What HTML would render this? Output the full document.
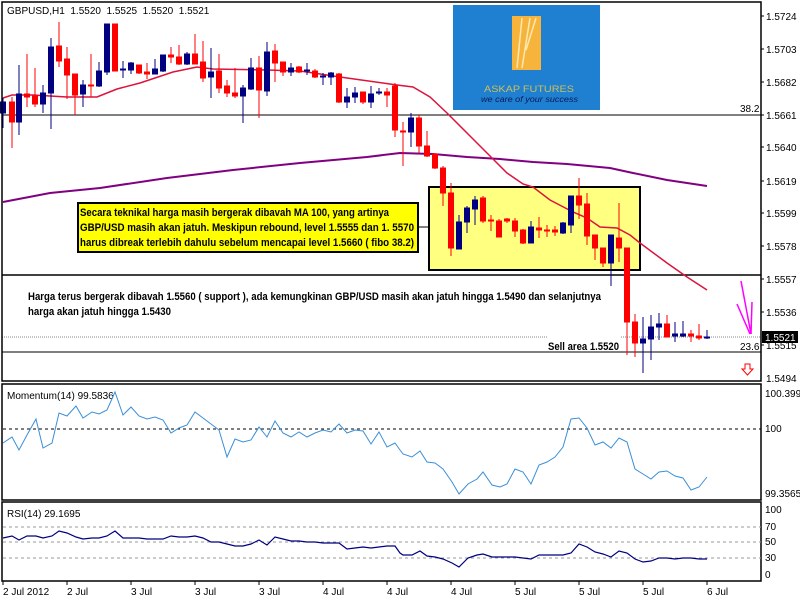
<!DOCTYPE html>
<html><head><meta charset="utf-8"><style>
html,body{margin:0;padding:0;background:#fff;width:800px;height:600px;overflow:hidden}
svg{display:block}
text{font-family:"Liberation Sans",sans-serif}
.ax{font-size:10px;fill:#000}
.nb{font-size:11px;font-weight:bold;fill:#000}
</style></head><body>
<svg width="800" height="600" viewBox="0 0 800 600" xmlns="http://www.w3.org/2000/svg">
<rect width="800" height="600" fill="#fff"/>
<!-- logo -->
<rect x="453" y="5" width="147" height="105" fill="#1f7fd1"/>
<rect x="512" y="16" width="29" height="54" fill="#f6b43c"/>
<path d="M517 68 L522 18 M522 68 L530 18 M526 50 L536 18" stroke="#fde9b0" stroke-width="1.5" fill="none"/>
<text x="484" y="92" font-size="9.5" fill="#c9c05a" textLength="90" lengthAdjust="spacingAndGlyphs">ASKAP FUTURES</text>
<text x="481" y="102" font-size="8" font-style="italic" fill="#0a1a5a" textLength="97" lengthAdjust="spacingAndGlyphs">we care of your success</text>

<!-- yellow box 2 behind candles -->
<rect x="429" y="187" width="211" height="83" fill="#ffff80" stroke="#000" stroke-width="2"/>
<line x1="418" y1="227" x2="429" y2="227" stroke="#000" stroke-width="1"/>

<!-- horizontal lines -->
<line x1="2" y1="115" x2="761" y2="115" stroke="#000" stroke-width="1"/>
<line x1="2" y1="275" x2="761" y2="275" stroke="#000" stroke-width="1.5"/>
<line x1="2" y1="352" x2="761" y2="352" stroke="#000" stroke-width="1"/>
<line x1="2" y1="337" x2="547" y2="337" stroke="#888" stroke-width="1" stroke-dasharray="1,1"/>
<line x1="621" y1="337" x2="761" y2="337" stroke="#888" stroke-width="1" stroke-dasharray="1,1"/>

<!-- MA lines -->
<polyline fill="none" stroke="#800080" stroke-width="2" points="3,202 50,193 100,188 167,178 233,170 300,163 367,157 400,153 433,154 467,157 500,159 533,162 567,164 610,168 633,173 667,180 707,186"/>
<polyline fill="none" stroke="#dc143c" stroke-width="1.5" points="3,98 12,95 33,95 67,97 97,97 117,89 140,83 173,72 197,67 213,69 267,70 300,71 347,78 397,85 413,87 430,97 447,113 467,133 487,153 507,173 523,184 533,187 550,200 573,212 587,218 600,227 617,228 630,235 640,243 667,263 687,277 707,290"/>

<!-- red candles -->
<g fill="#ff0000" stroke="#ff0000" stroke-width="1">
<line x1="12" y1="97" x2="12" y2="148"/><rect x="9.5" y="102" width="5" height="20"/>
<line x1="27" y1="54" x2="27" y2="107"/><rect x="24.5" y="94" width="5" height="3"/>
<line x1="35" y1="68" x2="35" y2="107"/><rect x="32.5" y="96" width="5" height="8"/>
<line x1="59" y1="22" x2="59" y2="67"/><rect x="56.5" y="46" width="5" height="15"/>
<line x1="67" y1="47" x2="67" y2="99"/><rect x="64.5" y="59" width="5" height="16"/>
<line x1="75" y1="74" x2="75" y2="115"/><rect x="72.5" y="74" width="5" height="21"/>
<line x1="91" y1="54" x2="91" y2="97"/><rect x="88.5" y="85" width="5" height="1"/>
<line x1="115" y1="24" x2="115" y2="71"/><rect x="112.5" y="24" width="5" height="47"/>
<line x1="139" y1="65" x2="139" y2="74"/><rect x="136.5" y="65" width="5" height="8"/>
<line x1="147" y1="63" x2="147" y2="79"/><rect x="144.5" y="72" width="5" height="2"/>
<line x1="171" y1="47" x2="171" y2="63"/><rect x="168.5" y="55" width="5" height="2"/>
<line x1="179" y1="45" x2="179" y2="65"/><rect x="176.5" y="57" width="5" height="7"/>
<line x1="195" y1="34" x2="195" y2="64"/><rect x="192.5" y="54" width="5" height="10"/>
<line x1="203" y1="41" x2="203" y2="82"/><rect x="200.5" y="62" width="5" height="16"/>
<line x1="219" y1="54" x2="219" y2="93"/><rect x="216.5" y="71" width="5" height="17"/>
<line x1="227" y1="80" x2="227" y2="97"/><rect x="224.5" y="86" width="5" height="7"/>
<line x1="235" y1="68" x2="235" y2="98"/><rect x="232.5" y="93" width="5" height="3"/>
<line x1="259" y1="56" x2="259" y2="118"/><rect x="256.5" y="68" width="5" height="22"/>
<line x1="275" y1="44" x2="275" y2="82"/><rect x="272.5" y="51" width="5" height="12"/>
<line x1="283" y1="62" x2="283" y2="76"/><rect x="280.5" y="62" width="5" height="10"/>
<line x1="299" y1="66" x2="299" y2="73"/><rect x="296.5" y="67" width="5" height="5"/>
<line x1="315" y1="69" x2="315" y2="78"/><rect x="312.5" y="71" width="5" height="6"/>
<line x1="339" y1="73" x2="339" y2="103"/><rect x="336.5" y="74" width="5" height="28"/>
<line x1="363" y1="92" x2="363" y2="104"/><rect x="360.5" y="92" width="5" height="10"/>
<line x1="387" y1="88" x2="387" y2="107"/><rect x="384.5" y="92" width="5" height="3"/>
<line x1="395" y1="83" x2="395" y2="137"/><rect x="392.5" y="86" width="5" height="44"/>
<line x1="403" y1="122" x2="403" y2="166"/><rect x="400.5" y="131" width="5" height="1"/>
<line x1="419" y1="115" x2="419" y2="153"/><rect x="416.5" y="118" width="5" height="28"/>
<line x1="427" y1="131" x2="427" y2="157"/><rect x="424.5" y="146" width="5" height="10"/>
<line x1="435" y1="154" x2="435" y2="169"/><rect x="432.5" y="154" width="5" height="14"/>
<line x1="443" y1="166" x2="443" y2="206"/><rect x="440.5" y="168" width="5" height="25"/>
<line x1="451" y1="183" x2="451" y2="256"/><rect x="448.5" y="193" width="5" height="55"/>
<line x1="483" y1="196" x2="483" y2="223"/><rect x="480.5" y="198" width="5" height="23"/>
<line x1="491" y1="215" x2="491" y2="231"/><rect x="488.5" y="220" width="5" height="1"/>
<line x1="499" y1="219" x2="499" y2="237"/><rect x="496.5" y="221" width="5" height="16"/>
<line x1="507" y1="218" x2="507" y2="223"/><rect x="504.5" y="219" width="5" height="2"/>
<line x1="515" y1="218" x2="515" y2="237"/><rect x="512.5" y="221" width="5" height="10"/>
<line x1="523" y1="229" x2="523" y2="244"/><rect x="520.5" y="230" width="5" height="13"/>
<line x1="539" y1="217" x2="539" y2="238"/><rect x="536.5" y="228" width="5" height="2"/>
<line x1="547" y1="225" x2="547" y2="237"/><rect x="544.5" y="230" width="5" height="1"/>
<line x1="555" y1="226" x2="555" y2="236"/><rect x="552.5" y="230" width="5" height="2"/>
<line x1="579" y1="178" x2="579" y2="219"/><rect x="576.5" y="196" width="5" height="9"/>
<line x1="587" y1="193" x2="587" y2="245"/><rect x="584.5" y="204" width="5" height="32"/>
<line x1="595" y1="235" x2="595" y2="260"/><rect x="592.5" y="235" width="5" height="13"/>
<line x1="603" y1="248" x2="603" y2="267"/><rect x="600.5" y="248" width="5" height="15"/>
<line x1="619" y1="203" x2="619" y2="262"/><rect x="616.5" y="238" width="5" height="10"/>
<line x1="627" y1="248" x2="627" y2="355"/><rect x="624.5" y="248" width="5" height="74"/>
<line x1="635" y1="314" x2="635" y2="357"/><rect x="632.5" y="322" width="5" height="21"/>
<line x1="667" y1="315" x2="667" y2="337"/><rect x="664.5" y="324" width="5" height="13"/>
<line x1="691" y1="330" x2="691" y2="342"/><rect x="688.5" y="334" width="5" height="2"/>
<line x1="699" y1="324" x2="699" y2="340"/><rect x="696.5" y="336" width="5" height="2"/>
</g>
<!-- blue candles -->
<g fill="#000080" stroke="#000080" stroke-width="1">
<line x1="3" y1="98" x2="3" y2="128"/><rect x="0.5" y="102" width="5" height="11"/>
<line x1="19" y1="65" x2="19" y2="135"/><rect x="16.5" y="94" width="5" height="28"/>
<line x1="43" y1="85" x2="43" y2="113"/><rect x="40.5" y="93" width="5" height="11"/>
<line x1="51" y1="38" x2="51" y2="129"/><rect x="48.5" y="47" width="5" height="46"/>
<line x1="83" y1="80" x2="83" y2="107"/><rect x="80.5" y="85" width="5" height="9"/>
<line x1="99" y1="62" x2="99" y2="87"/><rect x="96.5" y="71" width="5" height="15"/>
<line x1="107" y1="24" x2="107" y2="75"/><rect x="104.5" y="24" width="5" height="48"/>
<line x1="123" y1="61" x2="123" y2="78"/><rect x="120.5" y="69" width="5" height="1"/>
<line x1="131" y1="62" x2="131" y2="74"/><rect x="128.5" y="63" width="5" height="7"/>
<line x1="155" y1="59" x2="155" y2="74"/><rect x="152.5" y="69" width="5" height="5"/>
<line x1="163" y1="55" x2="163" y2="72"/><rect x="160.5" y="55" width="5" height="16"/>
<line x1="187" y1="52" x2="187" y2="65"/><rect x="184.5" y="54" width="5" height="10"/>
<line x1="211" y1="48" x2="211" y2="98"/><rect x="208.5" y="72" width="5" height="5"/>
<line x1="243" y1="85" x2="243" y2="123"/><rect x="240.5" y="88" width="5" height="8"/>
<line x1="251" y1="58" x2="251" y2="90"/><rect x="248.5" y="68" width="5" height="21"/>
<line x1="267" y1="42" x2="267" y2="96"/><rect x="264.5" y="52" width="5" height="39"/>
<line x1="291" y1="63" x2="291" y2="76"/><rect x="288.5" y="68" width="5" height="4"/>
<line x1="307" y1="63" x2="307" y2="75"/><rect x="304.5" y="70" width="5" height="1"/>
<line x1="323" y1="73" x2="323" y2="85"/><rect x="320.5" y="76" width="5" height="1"/>
<line x1="331" y1="72" x2="331" y2="85"/><rect x="328.5" y="73" width="5" height="4"/>
<line x1="347" y1="88" x2="347" y2="108"/><rect x="344.5" y="97" width="5" height="5"/>
<line x1="355" y1="87" x2="355" y2="103"/><rect x="352.5" y="93" width="5" height="4"/>
<line x1="371" y1="86" x2="371" y2="108"/><rect x="368.5" y="94" width="5" height="8"/>
<line x1="379" y1="88" x2="379" y2="95"/><rect x="376.5" y="92" width="5" height="1"/>
<line x1="411" y1="113" x2="411" y2="147"/><rect x="408.5" y="118" width="5" height="14"/>
<line x1="459" y1="215" x2="459" y2="249"/><rect x="456.5" y="222" width="5" height="27"/>
<line x1="467" y1="206" x2="467" y2="233"/><rect x="464.5" y="208" width="5" height="14"/>
<line x1="475" y1="196" x2="475" y2="225"/><rect x="472.5" y="200" width="5" height="9"/>
<line x1="531" y1="221" x2="531" y2="243"/><rect x="528.5" y="227" width="5" height="16"/>
<line x1="563" y1="222" x2="563" y2="234"/><rect x="560.5" y="223" width="5" height="10"/>
<line x1="571" y1="196" x2="571" y2="233"/><rect x="568.5" y="196" width="5" height="29"/>
<line x1="611" y1="235" x2="611" y2="286"/><rect x="608.5" y="235" width="5" height="28"/>
<line x1="643" y1="317" x2="643" y2="373"/><rect x="640.5" y="339" width="5" height="4"/>
<line x1="651" y1="315" x2="651" y2="360"/><rect x="648.5" y="327" width="5" height="12"/>
<line x1="659" y1="313" x2="659" y2="340"/><rect x="656.5" y="324" width="5" height="3"/>
<line x1="675" y1="322" x2="675" y2="342"/><rect x="672.5" y="334" width="5" height="2"/>
<line x1="683" y1="321" x2="683" y2="337"/><rect x="680.5" y="334" width="5" height="2"/>
<line x1="707" y1="330" x2="707" y2="339"/><rect x="704.5" y="337" width="5" height="1"/>
</g>

<!-- yellow box 1 -->
<rect x="78" y="203" width="340" height="49" fill="#ffff00" stroke="#000" stroke-width="2"/>
<text class="nb" x="80" y="216" textLength="309" lengthAdjust="spacingAndGlyphs">Secara teknikal harga masih bergerak dibavah MA 100, yang artinya</text>
<text class="nb" x="80" y="231" textLength="334" lengthAdjust="spacingAndGlyphs">GBP/USD masih akan jatuh. Meskipun rebound, level 1.5555 dan 1. 5570</text>
<text class="nb" x="80" y="246" textLength="334" lengthAdjust="spacingAndGlyphs">harus dibreak terlebih dahulu sebelum mencapai level 1.5660 ( fibo 38.2)</text>

<text class="nb" x="28" y="300" textLength="573" lengthAdjust="spacingAndGlyphs">Harga terus bergerak dibavah 1.5560 ( support ), ada kemungkinan GBP/USD masih akan jatuh hingga 1.5490 dan selanjutnya</text>
<text class="nb" x="28" y="315" textLength="143" lengthAdjust="spacingAndGlyphs">harga akan jatuh hingga 1.5430</text>
<text class="nb" x="548" y="350" textLength="71" lengthAdjust="spacingAndGlyphs">Sell area 1.5520</text>
<text class="ax" x="740" y="112">38.2</text>
<text class="ax" x="740" y="350">23.6</text>

<!-- magenta arrows -->
<g stroke="#ff00ff" stroke-width="1.5" fill="none">
<line x1="741" y1="281" x2="751" y2="334"/>
<line x1="737" y1="304" x2="750" y2="334"/>
<line x1="752" y1="302" x2="751" y2="334"/>
</g>
<path d="M745 364 h5 v5 h3 l-5.5 6 l-5.5 -6 h3 z" fill="none" stroke="#ff0000" stroke-width="1"/>

<!-- title -->
<text class="ax" x="7" y="14">GBPUSD,H1&#160;&#160;1.5520&#160;&#160;1.5525&#160;&#160;1.5520&#160;&#160;1.5521</text>

<!-- main frame -->
<rect x="2" y="2" width="759" height="379" fill="none" stroke="#000" stroke-width="1.5"/>
<g class="ax">
<text x="766" y="20">1.5724</text><text x="766" y="53">1.5703</text><text x="766" y="86">1.5682</text>
<text x="766" y="119">1.5661</text><text x="766" y="151">1.5640</text><text x="766" y="185">1.5619</text>
<text x="766" y="217">1.5599</text><text x="766" y="250">1.5578</text><text x="766" y="283">1.5557</text>
<text x="766" y="316">1.5536</text><text x="766" y="349">1.5515</text><text x="766" y="382">1.5494</text>
</g>
<g stroke="#000" stroke-width="1">
<line x1="761" y1="16" x2="764" y2="16"/><line x1="761" y1="49" x2="764" y2="49"/><line x1="761" y1="82" x2="764" y2="82"/>
<line x1="761" y1="115" x2="764" y2="115"/><line x1="761" y1="147" x2="764" y2="147"/><line x1="761" y1="181" x2="764" y2="181"/>
<line x1="761" y1="213" x2="764" y2="213"/><line x1="761" y1="246" x2="764" y2="246"/><line x1="761" y1="279" x2="764" y2="279"/>
<line x1="761" y1="312" x2="764" y2="312"/><line x1="761" y1="345" x2="764" y2="345"/>
</g>
<rect x="762" y="331" width="36" height="12" fill="#000"/>
<text x="765" y="341" font-size="10" fill="#fff">1.5521</text>

<!-- momentum pane -->
<rect x="2" y="384" width="759" height="116" fill="none" stroke="#000" stroke-width="1.5"/>
<line x1="3" y1="429" x2="761" y2="429" stroke="#000" stroke-dasharray="3,3"/>
<text class="ax" x="7" y="399">Momentum(14) 99.5836</text>
<text class="ax" x="765" y="397">100.3998</text>
<text class="ax" x="765" y="432">100</text>
<text class="ax" x="765" y="497">99.3565</text>
<polyline fill="none" stroke="#3a8fd8" stroke-width="1" points="3,443 12,437 19,450 27,435 36,419 43,448 52,443 59,413 67,416 76,406 83,418 92,412 99,414 107,410 115,392 123,415 131,407 139,416 147,419 155,417 163,420 171,433 179,428 187,425 195,412 203,418 211,424 219,430 227,457 235,439 243,442 251,440 259,427 267,437 275,421 283,433 291,437 299,432 307,437 315,433 323,430 331,432 339,424 347,433 355,430 363,431 371,444 379,432 387,447 395,443 400,450 403,454 412,457 420,451 427,462 435,463 443,469 452,482 459,494 468,484 477,479 483,472 492,485 500,487 507,484 515,469 523,472 531,484 539,465 547,462 555,457 563,447 571,419 579,418 587,428 595,445 603,442 611,448 619,438 627,442 635,469 643,474 651,479 659,472 667,471 675,476 683,478 691,490 699,487 707,477"/>

<!-- RSI pane -->
<rect x="2" y="502" width="759" height="79" fill="none" stroke="#000" stroke-width="1.5"/>
<g stroke="#999" stroke-dasharray="3,3">
<line x1="3" y1="527" x2="761" y2="527"/><line x1="3" y1="542" x2="761" y2="542"/><line x1="3" y1="558" x2="761" y2="558"/>
</g>
<text class="ax" x="7" y="517">RSI(14) 29.1695</text>
<g class="ax">
<text x="765" y="513">100</text><text x="765" y="530">70</text><text x="765" y="545">50</text><text x="765" y="561">30</text><text x="765" y="578">0</text>
</g>
<polyline fill="none" stroke="#000080" stroke-width="1.2" points="3,538 12,536 19,540 27,536 36,536 43,538 52,536 59,531 67,533 76,537 83,539 92,538 99,538 107,536 115,531 123,538 131,538 139,538 147,539 155,539 163,539 171,536 179,537 187,537 195,536 203,538 211,542 219,542 227,544 235,546 243,546 251,544 259,540 267,545 275,537 283,539 291,541 299,541 307,542 315,542 323,543 331,543 339,543 347,549 355,548 363,547 371,548 379,547 387,546 395,546 400,553 403,555 412,555 420,551 427,556 435,557 443,559 452,563 459,567 468,558 477,555 483,554 492,557 500,557 507,557 515,557 523,558 531,559 539,555 547,555 555,555 563,555 571,553 579,544 587,547 595,552 603,554 611,557 619,551 627,553 635,559 643,562 651,561 659,558 667,558 675,559 683,558 691,558 699,559 707,559"/>

<!-- time axis -->
<g stroke="#000">
<line x1="3" y1="581" x2="3" y2="585"/><line x1="67" y1="581" x2="67" y2="585"/><line x1="131" y1="581" x2="131" y2="585"/>
<line x1="195" y1="581" x2="195" y2="585"/><line x1="259" y1="581" x2="259" y2="585"/><line x1="323" y1="581" x2="323" y2="585"/>
<line x1="387" y1="581" x2="387" y2="585"/><line x1="451" y1="581" x2="451" y2="585"/><line x1="515" y1="581" x2="515" y2="585"/>
<line x1="579" y1="581" x2="579" y2="585"/><line x1="643" y1="581" x2="643" y2="585"/><line x1="707" y1="581" x2="707" y2="585"/>
</g>
<g class="ax">
<text x="3" y="595">2 Jul 2012</text><text x="67" y="595">2 Jul</text><text x="131" y="595">3 Jul</text>
<text x="195" y="595">3 Jul</text><text x="259" y="595">3 Jul</text><text x="323" y="595">4 Jul</text>
<text x="387" y="595">4 Jul</text><text x="451" y="595">4 Jul</text><text x="515" y="595">5 Jul</text>
<text x="579" y="595">5 Jul</text><text x="643" y="595">5 Jul</text><text x="707" y="595">6 Jul</text>
</g>
</svg>
</body></html>
